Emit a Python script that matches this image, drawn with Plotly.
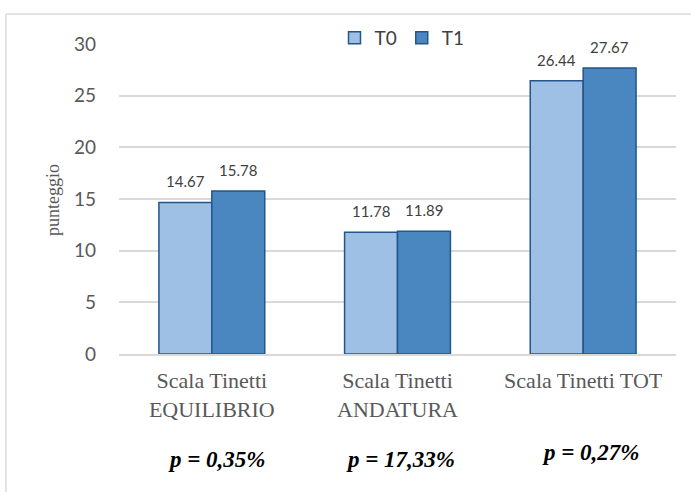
import plotly.graph_objects as go

categories = ["Scala Tinetti<br>EQUILIBRIO", "Scala Tinetti<br>ANDATURA", "Scala Tinetti TOT"]
t0_values = [14.67, 11.78, 26.44]
t1_values = [15.78, 11.89, 27.67]
p_labels = ["p = 0,35%", "p = 17,33%", "p = 0,27%"]
y_ticks = [0, 5, 10, 15, 20, 25, 30]
y_title = "punteggio"

W, H = 691, 492
ML, MR, MT, MB = 119, 15, 44, 138
plot_w = W - ML - MR
plot_h = H - MT - MB

def px_to_paper_x(px):
    return (px - ML) / plot_w

def px_to_paper_y(py):
    return (H - MB - py) / plot_h

sans = "Lato, Open Sans, sans-serif"
serif = "Liberation Serif, Times New Roman, serif"
outline = "#23568a"
colors = {"T0": "#9dc0e4", "T1": "#4a86c0"}

fig = go.Figure()
for name, values in (("T0", t0_values), ("T1", t1_values)):
    fig.add_trace(go.Bar(
        name=name, x=categories, y=values,
        marker=dict(color=colors[name], line=dict(color=outline, width=1.5)),
        cliponaxis=False,
    ))

# value labels above each bar, offset to the bar within its group
for values, shift in ((t0_values, -26.5), (t1_values, 26.5)):
    for cat, v in zip(categories, values):
        fig.add_annotation(
            x=cat, y=v, xref="x", yref="y", text=f"{v:.2f}", showarrow=False,
            xshift=shift, yshift=10, yanchor="bottom", xanchor="center",
            font=dict(family=sans, size=15, color="#404040"),
        )

# p-value annotations under each category
p_pos = [(217, 459), (400, 459), (591, 452)]
for label, (px, py) in zip(p_labels, p_pos):
    fig.add_annotation(
        text=f"<b><i>{label}</i></b>", xref="paper", yref="paper",
        x=px_to_paper_x(px), y=px_to_paper_y(py), showarrow=False,
        font=dict(family=serif, size=23, color="#000000"),
        xanchor="center", yanchor="middle",
    )

# y-axis title, placed left of the tick labels
fig.add_annotation(
    text=y_title, xref="paper", yref="paper",
    x=px_to_paper_x(53), y=px_to_paper_y(200), showarrow=False, textangle=-90,
    font=dict(family=serif, size=18, color="#595959"),
    xanchor="center", yanchor="middle",
)

# chart frame (left and top edges)
fx = px_to_paper_x(6)
fy = px_to_paper_y(14)
fig.add_shape(type="line", xref="paper", yref="paper", x0=fx, x1=fx, y0=px_to_paper_y(H + 5), y1=fy,
              line=dict(color="#d9d9d9", width=1.5))
fig.add_shape(type="line", xref="paper", yref="paper", x0=fx, x1=px_to_paper_x(W + 5), y0=fy, y1=fy,
              line=dict(color="#d9d9d9", width=1.5))

fig.update_layout(
    width=W, height=H,
    margin=dict(l=ML, r=MR, t=MT, b=MB),
    paper_bgcolor="white", plot_bgcolor="white",
    barmode="group", bargap=0.43, bargroupgap=0,
    legend=dict(orientation="h", x=px_to_paper_x(402), xanchor="center",
                y=px_to_paper_y(38), yanchor="middle",
                font=dict(family=sans, size=19, color="#404040"),
                bgcolor="rgba(0,0,0,0)", itemwidth=30, tracegroupgap=0),
    xaxis=dict(tickfont=dict(family=serif, size=22, color="#595959"),
               showline=True, linecolor="#d9d9d9", linewidth=1.5,
               ticks="", showgrid=False, ticklabelstandoff=6),
    yaxis=dict(range=[0, 30], tickvals=y_ticks,
               tickfont=dict(family=sans, size=19, color="#595959"),
               showgrid=True, gridcolor="#d9d9d9", gridwidth=1.5,
               zeroline=False, ticks="", ticklabelstandoff=22),
    showlegend=True,
)

fig.write_html("out.html")
